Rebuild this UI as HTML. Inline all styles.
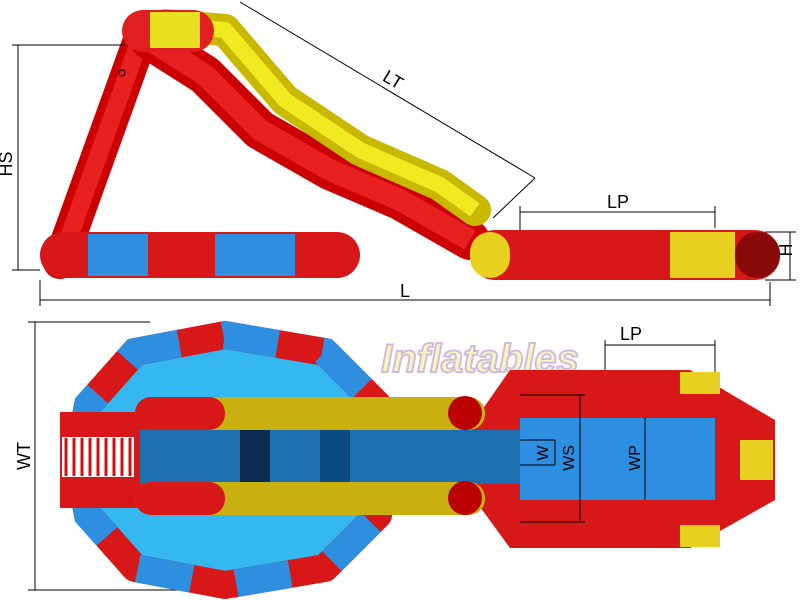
<!DOCTYPE html>
<html><head><meta charset="utf-8"><style>html,body{margin:0;padding:0;background:#fff}svg{display:block}</style></head>
<body>
<svg width="800" height="600" viewBox="0 0 800 600" xmlns="http://www.w3.org/2000/svg" font-family="Liberation Sans, sans-serif">
<path d="M60,262 L140,40" stroke="#c00" stroke-width="34" stroke-linecap="round" fill="none"/>
<path d="M60,262 L140,40" stroke="#e82020" stroke-width="18" fill="none"/>
<path d="M150,40 L205,75 L260,130 L330,170 L400,200 L470,240" stroke="#c00" stroke-width="40" stroke-linejoin="round" stroke-linecap="round" fill="none"/>
<path d="M150,40 L205,75 L260,130 L330,170 L400,200 L470,240" stroke="#e82020" stroke-width="22" stroke-linejoin="round" fill="none"/>
<path d="M165,25 L225,30 L285,100 L360,150 L440,185 L475,210" stroke="#c8b800" stroke-width="32" stroke-linejoin="round" stroke-linecap="round" fill="none"/>
<path d="M165,25 L225,30 L285,100 L360,150 L440,185 L475,210" stroke="#f2ea20" stroke-width="16" stroke-linejoin="round" fill="none"/>
<rect x="122" y="10" width="92" height="42" rx="21" fill="#e02020"/>
<rect x="150" y="12" width="50" height="36" fill="#e8e020"/>
<circle cx="122" cy="73" r="3" fill="none" stroke="#000"/>
<rect x="40" y="232" width="320" height="46" rx="23" fill="#d81818"/>
<rect x="88" y="234" width="60" height="42" fill="#2e8ee0"/>
<rect x="215" y="234" width="80" height="42" fill="#2e8ee0"/>
<rect x="470" y="230" width="310" height="50" rx="25" fill="#d81818"/>
<rect x="470" y="232" width="40" height="46" rx="20" fill="#e8d020"/>
<rect x="670" y="232" width="65" height="46" fill="#e8d020"/>
<rect x="735" y="232" width="45" height="46" rx="22" fill="#8a0a0a"/>
<g stroke="#000" stroke-width="1" fill="none">
<path d="M18,45 L18,270 M12,45 L125,45 M12,270 L40,270"/>
<path d="M240,2 L535,178 M535,178 L493,218"/>
<path d="M520,212 L715,212 M520,206 L520,230 M715,206 L715,228"/>
<path d="M790,232 L790,280 M765,232 L796,232 M765,280 L796,280"/>
<path d="M40,300 L770,300 M40,280 L40,306 M770,282 L770,306"/>
<path d="M35,322 L35,590 M28,322 L150,322 M28,590 L200,590"/>
<path d="M605,345 L715,345 M605,340 L605,370 M715,340 L715,420"/>
</g>
<text x="8" y="160" font-size="18" transform="rotate(-90 12 160)" text-anchor="middle">HS</text>
<text x="390" y="85" font-size="18" transform="rotate(31 390 85)" text-anchor="middle">LT</text>
<text x="618" y="208" font-size="18" text-anchor="middle">LP</text>
<text x="798" y="256" font-size="18" transform="rotate(-90 792 256)" text-anchor="middle">H</text>
<text x="405" y="297" font-size="18" text-anchor="middle">L</text>
<text x="30" y="456" font-size="18" transform="rotate(-90 30 456)" text-anchor="middle">WT</text>
<text x="620" y="340" font-size="18">LP</text>
<!-- plan ring -->
<polygon points="135,352 225,335 325,352 378,405 388,460 378,515 325,568 225,585 135,568 88,515 78,460 88,405" fill="#35b8f0" stroke="#d81818" stroke-width="28" stroke-linejoin="round"/>
<polygon points="135,352 225,335 325,352 378,405 388,460 378,515 325,568 225,585 135,568 88,515 78,460 88,405" fill="none" stroke="#2e8ee0" stroke-width="28" stroke-dasharray="55 45" stroke-dashoffset="10"/>
<text x="480" y="372" font-size="40" font-weight="bold" text-anchor="middle" fill="#f4e040" stroke="#7a3ab0" stroke-width="2" opacity="0.35" font-style="italic">Inflatables</text>
<polygon points="510,370 690,370 775,420 775,500 690,548 510,548 475,500 475,420" fill="#d81818"/>
<rect x="520" y="418" width="195" height="82" fill="#2e8ee0"/>
<rect x="680" y="372" width="40" height="22" fill="#e8d020"/><rect x="680" y="525" width="40" height="22" fill="#e8d020"/>
<rect x="740" y="440" width="33" height="40" fill="#e8d020"/>
<rect x="60" y="412" width="460" height="96" fill="#d81818"/>
<rect x="140" y="430" width="380" height="54" fill="#1e6fb0"/>
<rect x="240" y="430" width="30" height="54" fill="#0a2a50"/><rect x="320" y="430" width="30" height="54" fill="#0a4a80"/>
<rect x="62" y="437" width="72" height="40" fill="#fff"/>
<g stroke="#d01010" stroke-width="3"><path d="M66,438V476M74,438V476M82,438V476M90,438V476M98,438V476M106,438V476M114,438V476M122,438V476M130,438V476"/></g>
<rect x="135" y="397" width="350" height="33" rx="16" fill="#c8b010"/>
<rect x="135" y="397" width="90" height="33" rx="16" fill="#d81818"/>
<rect x="135" y="482" width="350" height="33" rx="16" fill="#c8b010"/>
<rect x="135" y="482" width="90" height="33" rx="16" fill="#d81818"/>
<circle cx="465" cy="413" r="17" fill="#b00"/><circle cx="465" cy="498" r="17" fill="#b00"/>
<g stroke="#000" fill="none">
<path d="M520,440 L555,440 M520,465 L555,465 M555,440 L555,465"/>
<path d="M580,395 L580,522 M520,395 L585,395 M520,522 L585,522"/>
<path d="M645,418 L645,500"/>
</g>
<text x="548" y="453" font-size="16" transform="rotate(-90 548 453)" text-anchor="middle">W</text>
<text x="574" y="458" font-size="16" transform="rotate(-90 574 458)" text-anchor="middle">WS</text>
<text x="640" y="458" font-size="16" transform="rotate(-90 640 458)" text-anchor="middle">WP</text>
</svg>
</body></html>
